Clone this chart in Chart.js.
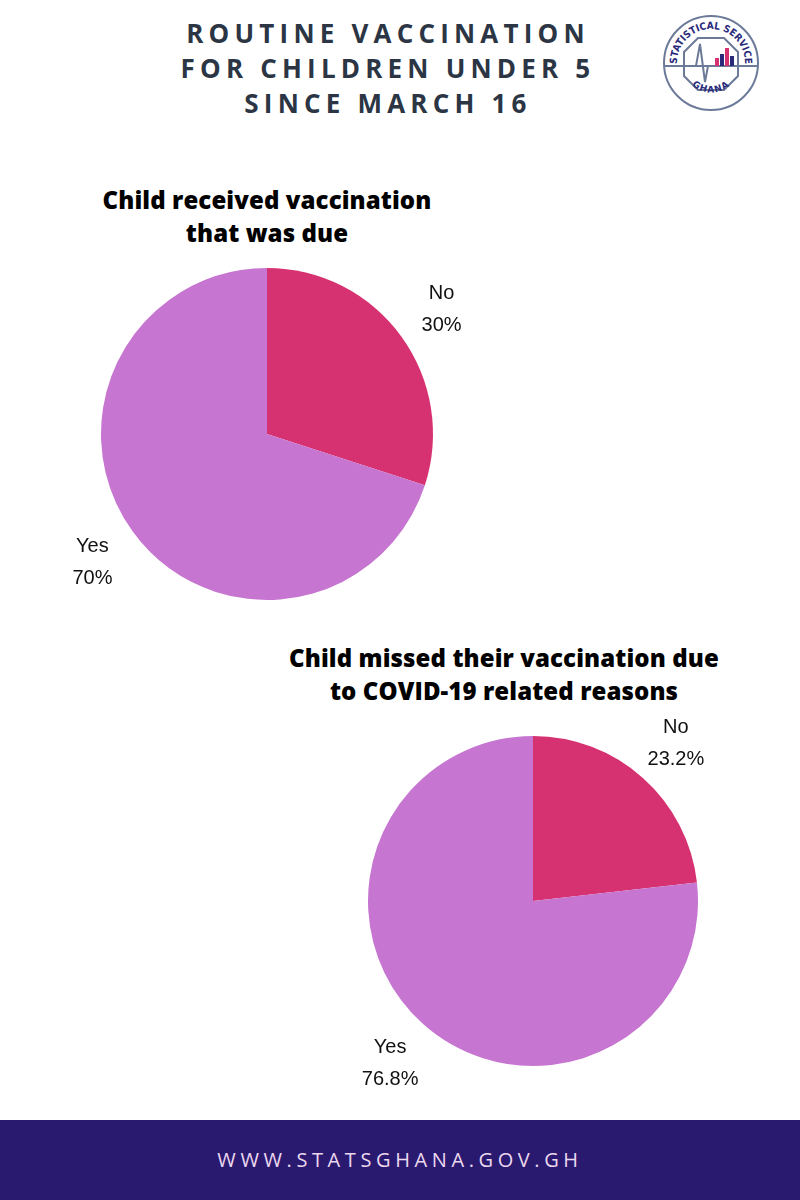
<!DOCTYPE html>
<html>
<head>
<meta charset="utf-8">
<script src="https://cdn.jsdelivr.net/npm/chart.js@4"></script>
<style>
  html, body { margin:0; padding:0; }
  body { width:800px; height:1200px; position:relative; background:#fff; overflow:hidden; }
  .head { position:absolute; left:170px; width:436px; top:16px; text-align:center;
          font-family:"Open Sans", sans-serif; font-weight:700; font-size:26px; line-height:35px;
          letter-spacing:5.2px; color:#2b3544; }
  .sub { position:absolute; text-align:center; font-family:"Open Sans", sans-serif; font-weight:800;
         font-size:24px; line-height:33px; color:#000; letter-spacing:0.1px; }
  .box { position:absolute; width:460px; height:460px; }
  .foot { position:absolute; left:0; top:1120px; width:800px; height:80px; background:#291a70; }
  .foot div { text-align:center; line-height:80px; font-family:"Open Sans", sans-serif; font-size:20px;
              letter-spacing:4.6px; color:#ecd8ee; }
  .logo { position:absolute; left:662px; top:14px; }
</style>
</head>
<body>
<div class="head">ROUTINE VACCINATION<br>FOR CHILDREN UNDER 5<br>SINCE MARCH 16</div>

<svg class="logo" width="98" height="98" viewBox="0 0 98 98">
  <defs>
    <path id="arcTop" d="M 15 49 A 34 34 0 0 1 83 49"/>
    <path id="arcBot" d="M 22 60 A 29 29 0 0 0 76 60"/>
  </defs>
  <circle cx="49" cy="49" r="47" fill="#fff" stroke="#6b7a99" stroke-width="2"/>
  <polygon points="36,24 62,24 76,38 76,62 62,76 36,76 22,62 22,38" fill="none" stroke="#6b7a99" stroke-width="2"/>
  <line x1="2" y1="52" x2="96" y2="52" stroke="#6b7a99" stroke-width="2"/>
  <polyline points="22,52 34,52 38,30 43,68 46,52 56,52" fill="none" stroke="#6b7a99" stroke-width="2"/>
  <rect x="53" y="44" width="4" height="8" fill="#d63171"/>
  <rect x="58" y="40" width="4" height="12" fill="#2a2a7a"/>
  <rect x="63" y="34" width="4" height="18" fill="#d63171"/>
  <rect x="68" y="42" width="4" height="10" fill="#2a2a7a"/>
  <text font-family="DejaVu Sans Condensed, sans-serif" font-weight="700" font-size="10" fill="#2a2a7a">
    <textPath href="#arcTop" startOffset="50%" text-anchor="middle">STATISTICAL SERVICE</textPath>
  </text>
  <text font-family="DejaVu Sans, sans-serif" font-weight="700" font-size="9" fill="#2a2a7a" letter-spacing="1">
    <textPath href="#arcBot" startOffset="50%" text-anchor="middle">GHANA</textPath>
  </text>
</svg>

<div class="sub" style="left:67px; width:400px; top:183px;">Child received vaccination<br>that was due</div>
<div class="sub" style="left:254px; width:500px; top:641px;">Child missed their vaccination due<br>to COVID-19 related reasons</div>

<div class="box" style="left:37px; top:204px;"><canvas id="pie1"></canvas></div>
<div class="box" style="left:303px; top:671px;"><canvas id="pie2"></canvas></div>

<div class="foot"><div>WWW.STATSGHANA.GOV.GH</div></div>

<script>
// data
const answers = ['No', 'Yes'];
const receivedDue = [30, 70];
const receivedDueLabels = ['30%', '70%'];
const missedCovid = [23.2, 76.8];
const missedCovidLabels = ['23.2%', '76.8%'];
const sliceColors = ['#d63171', '#c675d0'];

// labels outside the pie, two lines: category and percent
const outsideLabels = {
  id: 'outsideLabels',
  afterDatasetsDraw(chart, args, opts) {
    const ctx = chart.ctx;
    const arcs = chart.getDatasetMeta(0).data;
    ctx.save();
    ctx.font = '20px "Liberation Sans", Arial, sans-serif';
    ctx.fillStyle = '#111';
    ctx.textAlign = 'center';
    ctx.textBaseline = 'middle';
    arcs.forEach((arc, i) => {
      const p = arc.getProps(['x', 'y', 'startAngle', 'endAngle', 'outerRadius'], true);
      const mid = (p.startAngle + p.endAngle) / 2;
      const r = p.outerRadius * 1.3;
      const x = p.x + Math.cos(mid) * r;
      const y = p.y + Math.sin(mid) * r;
      ctx.fillText(chart.data.labels[i], x, y - 14);
      ctx.fillText(opts.values[i], x, y + 18);
    });
    ctx.restore();
  }
};

function makePie(id, values, pctLabels, pad) {
  return new Chart(document.getElementById(id), {
    type: 'pie',
    data: {
      labels: answers,
      datasets: [{ data: values, backgroundColor: sliceColors, borderWidth: 0 }]
    },
    options: {
      responsive: true,
      maintainAspectRatio: false,
      animation: false,
      layout: { padding: pad },
      plugins: {
        legend: { display: false },
        tooltip: { enabled: false },
        outsideLabels: { values: pctLabels }
      }
    },
    plugins: [outsideLabels]
  });
}

makePie('pie1', receivedDue, receivedDueLabels, 64);
makePie('pie2', missedCovid, missedCovidLabels, 65);
</script>
</body>
</html>
